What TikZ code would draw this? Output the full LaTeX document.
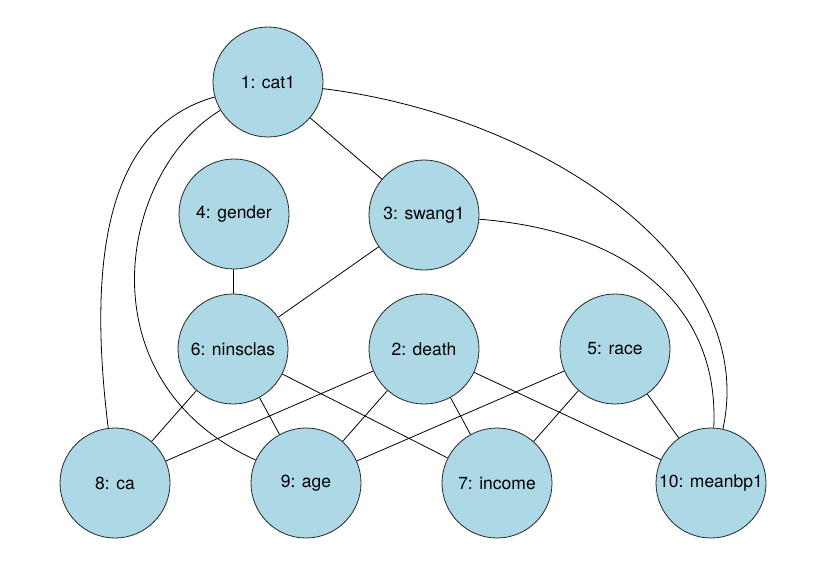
\documentclass[tikz,border=0pt]{standalone}
\usepackage{fontspec}
\setmainfont{TeX Gyre Heros}
\definecolor{nodeblue}{RGB}{173,216,230}

\begin{document}
\begin{tikzpicture}[x=1pt,y=-1pt,line width=0.8pt,
    var/.style={circle,draw=black!85,fill=nodeblue,minimum size=110pt,inner sep=0pt,
      font=\fontsize{17.5}{21}\selectfont}]
    \useasboundingbox (0,0) rectangle (826,565);
    % top rows
    \node[var](v1) at (268,82)  {1: cat1};
    \node[var](v4) at (234,214) {4: gender};
    \node[var](v3) at (424,215) {3: swang1};
    % middle row
    \node[var](v6) at (233,349) {6: ninsclas};
    \node[var](v2) at (424,349) {2: death};
    \node[var](v5) at (615,349) {5: race};
    % bottom row
    \node[var](v8) at (115,483)  {8: ca};
    \node[var](v9) at (306,483)  {9: age};
    \node[var](v7) at (497,483)  {7: income};
    \node[var](v10) at (711,483) {10: meanbp1};
    \path
      (v1) edge (v3)
      (v4) edge (v6)
      (v3) edge (v6)
      (v6) edge (v8)
      (v6) edge (v9)
      (v6) edge (v7)
      (v2) edge (v8)
      (v2) edge (v9)
      (v2) edge (v7)
      (v2) edge (v10)
      (v5) edge (v9)
      (v5) edge (v7)
      (v5) edge (v10)
      ;
    \draw (v1) .. controls (115,125) and (85,240) .. (v8);
    \draw (v1) .. controls (120,170) and (80,380) .. (v9);
    \draw (v1) .. controls (540,115) and (760,260) .. (v10);
    \draw (v3) .. controls (620,230) and (720,300) .. (v10);
\end{tikzpicture}
\end{document}
